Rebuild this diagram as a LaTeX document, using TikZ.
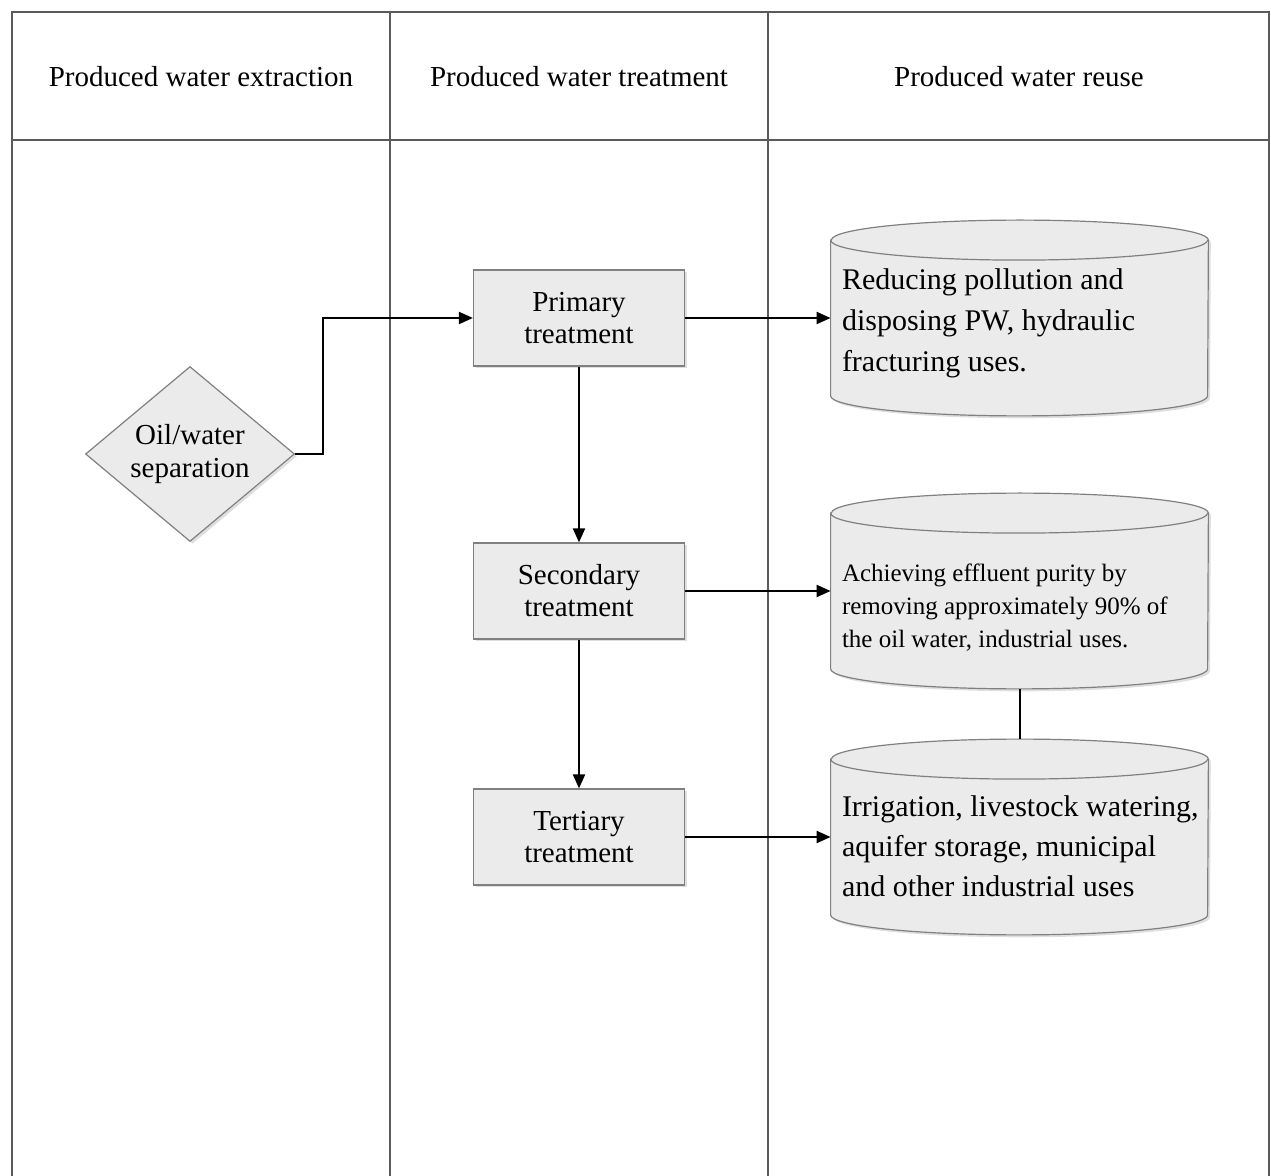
\documentclass[tikz,border=0pt]{standalone}
\usepackage{fontspec}
\setmainfont{Liberation Serif}
\usetikzlibrary{shapes.geometric,arrows.meta,shadows}

\definecolor{lanecol}{HTML}{5A5A5A}
\definecolor{shapefill}{HTML}{EBEBEB}
\definecolor{shapeedge}{HTML}{808080}

\tikzset{
  lane/.style={draw=lanecol, line width=1.1pt},
  head/.style={font=\fontsize{14.5}{17}\selectfont},
  softshadow/.style={drop shadow={shadow xshift=1.2pt, shadow yshift=-1.2pt, opacity=0.25}},
  stage/.style={rectangle, draw=shapeedge, line width=0.6pt, fill=shapefill, softshadow,
    minimum width=105.5pt, minimum height=48pt, inner sep=0pt, align=center,
    font=\fontsize{14.5}{16}\selectfont},
  decide/.style={diamond, draw=shapeedge, line width=0.6pt, fill=shapefill, softshadow,
    minimum width=104.5pt, minimum height=87.5pt, inner sep=0pt},
  tankslot/.style={rectangle, minimum width=188.5pt, minimum height=97.5pt, inner sep=0pt},
  tank/.style={draw=shapeedge, line width=0.6pt, fill=shapefill, softshadow},
  tankrim/.style={draw=shapeedge, line width=0.6pt},
  tanktext/.style={anchor=west, inner sep=0pt, align=left},
  conn/.style={draw=black, line width=1pt, -{Triangle[length=7pt,width=6pt]}},
  link/.style={draw=black, line width=1pt},
}

% database-style tank drawn around an invisible slot node
\newcommand\drawtank[1]{%
  \path[tank] ([yshift=-10pt]#1.north west) -- ([yshift=10pt]#1.south west)
    arc[start angle=180, end angle=360, x radius=94.25pt, y radius=10pt]
    -- ([yshift=-10pt]#1.north east)
    arc[start angle=0, end angle=180, x radius=94.25pt, y radius=10pt] -- cycle;
  \path[tankrim] ([yshift=-10pt]#1.north west)
    arc[start angle=180, end angle=360, x radius=94.25pt, y radius=10pt];
}

\begin{document}
\begin{tikzpicture}[x=0.5pt, y=-0.5pt]
\useasboundingbox (0,0) rectangle (1271,1176);

% swimlane frame
\draw[lane] (12,1176) -- (12,12) -- (1269,12) -- (1269,1176);
\draw[lane] (390,12) -- (390,1176);
\draw[lane] (768,12) -- (768,1176);
\draw[lane] (12,140) -- (1269,140);

% lane headers
\node[head] (h1) at (201,77) {Produced water extraction};
\node[head] (h2) at (579,77) {Produced water treatment};
\node[head] (h3) at (1019,77) {Produced water reuse};

% extraction
\node[decide] (sep) at (190,454) {};
\node[align=center, inner sep=0pt, font=\fontsize{14.5}{16.5}\selectfont] (septxt) at (sep) {Oil/water\\separation};

% treatment stages
\node[stage] (prim) at (579,318) {Primary\\treatment};
\node[stage] (seco) at (579,591) {Secondary\\treatment};
\node[stage] (tert) at (579,837) {Tertiary\\treatment};

% reuse tanks
\node[tankslot] (c1) at (1019.5,318) {};
\drawtank{c1}
\node[tanktext, font=\fontsize{15}{20.5}\selectfont, xshift=5.5pt, yshift=-2.5pt] (t1) at (c1.west)
  {Reducing pollution and\\disposing PW, hydraulic\\fracturing uses.};

\node[tankslot] (c2) at (1019.5,591) {};
\drawtank{c2}
\node[tanktext, font=\fontsize{12.5}{16.5}\selectfont, xshift=5.5pt, yshift=-8.5pt] (t2) at (c2.west)
  {Achieving effluent purity by\\removing approximately 90\% of\\the oil water, industrial uses.};

\node[tankslot] (c3) at (1019.5,837) {};
\drawtank{c3}
\node[tanktext, font=\fontsize{15}{20}\selectfont, xshift=5.5pt, yshift=-4.5pt] (t3) at (c3.west)
  {Irrigation, livestock watering,\\aquifer storage, municipal\\and other industrial uses};

% connectors
\draw[conn] (sep.east) -- ++(28,0) |- (prim.west);
\draw[conn] (prim.south) -- (seco.north);
\draw[conn] (seco.south) -- (tert.north);
\draw[conn] (prim.east) -- (c1.west);
\draw[conn] (seco.east) -- (c2.west);
\draw[conn] (tert.east) -- (c3.west);
\draw[link] (c2.south) -- (c3.north);
\end{tikzpicture}
\end{document}
